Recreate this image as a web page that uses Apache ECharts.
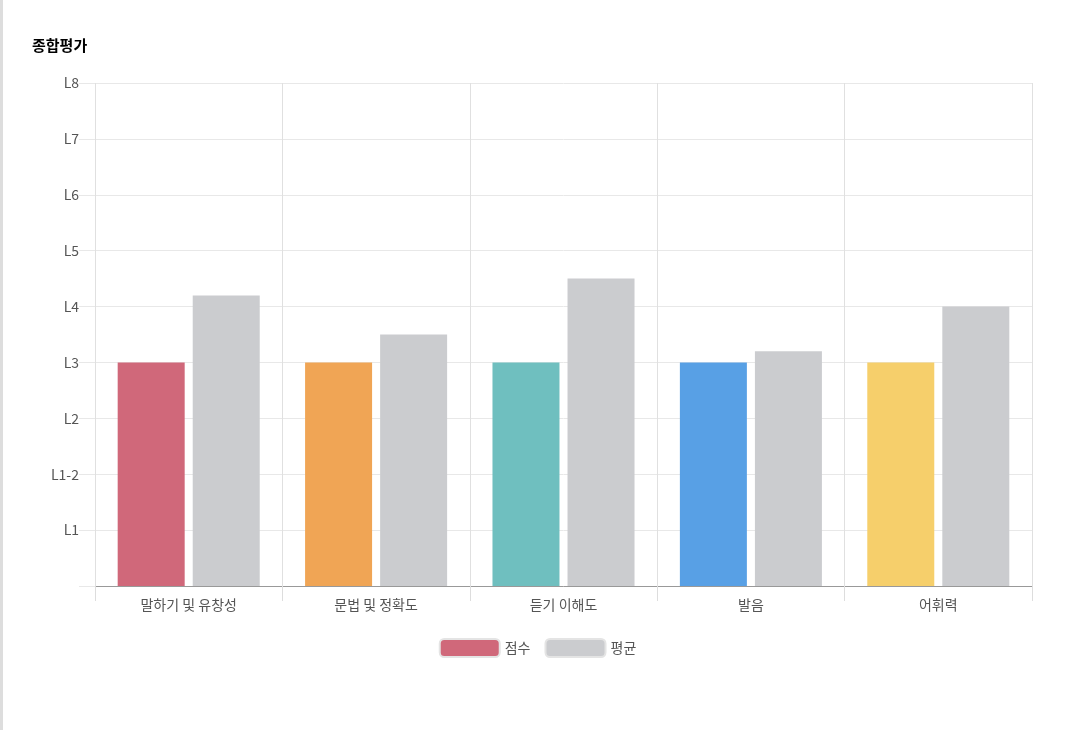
<!DOCTYPE html>
<html><head><meta charset="utf-8">
<script src="https://cdn.jsdelivr.net/npm/echarts@6/dist/echarts.min.js"></script>
<style>html,body{margin:0;padding:0;background:#fff}#c{width:1072px;height:730px;border-left:3px solid #ddd;box-sizing:border-box}</style>
</head><body><div id="c"></div>
<script>
const categories = ['말하기 및 유창성','문법 및 정확도','듣기 이해도','발음','어휘력'];
const scoreValues = [4,4,4,4,4];
const averageValues = [5.2,4.5,5.5,4.2,5.0];
const levelLabels = ['','L1','L1-2','L2','L3','L4','L5','L6','L7','L8'];
const scoreColors = ['#d0687a','#f0a555','#6fbfbf','#58a0e5','#f6cf6b'];
const avgColor = '#cbcccf';
const chart = echarts.init(document.getElementById('c'));
chart.setOption({
  animation:false,
  title:{text:'종합평가',left:24,top:33,textStyle:{fontSize:15,fontWeight:'bold',color:'#000',fontFamily:'Noto Sans CJK KR'}},
  grid:{left:92,right:40,top:83,bottom:144},
  legend:{bottom:67,itemWidth:60,itemHeight:18,itemGap:14,textStyle:{fontSize:14,color:'#555',fontFamily:'Noto Sans CJK KR'},
    data:[{name:'점수',itemStyle:{color:scoreColors[0],borderColor:'#e4e4e4',borderWidth:2}},{name:'평균',itemStyle:{color:avgColor,borderColor:'#e4e4e4',borderWidth:2}}]},
  xAxis:{type:'category',data:categories,
    axisLine:{lineStyle:{color:'#999'}},axisTick:{show:true,length:15,lineStyle:{color:'#ddd'}},
    splitLine:{show:true,lineStyle:{color:'#e0e0e0'}},
    axisLabel:{fontSize:14,color:'#555',margin:12,fontFamily:'Noto Sans CJK KR'}},
  yAxis:{type:'value',min:0,max:9,interval:1,
    axisLine:{show:false},axisTick:{show:true,length:16,lineStyle:{color:'#e8e8e8'}},
    splitLine:{lineStyle:{color:'#e8e8e8'}},
    axisLabel:{fontSize:14,color:'#555',margin:16,formatter:v=>levelLabels[v]||'',fontFamily:'Noto Sans CJK KR'}},
  series:[
    {name:'점수',type:'bar',barWidth:67,barGap:'12%',data:scoreValues.map((v,i)=>({value:v,itemStyle:{color:scoreColors[i]}})),itemStyle:{color:scoreColors[0]}},
    {name:'평균',type:'bar',barWidth:67,data:averageValues,itemStyle:{color:avgColor}}
  ]
});
</script></body></html>
